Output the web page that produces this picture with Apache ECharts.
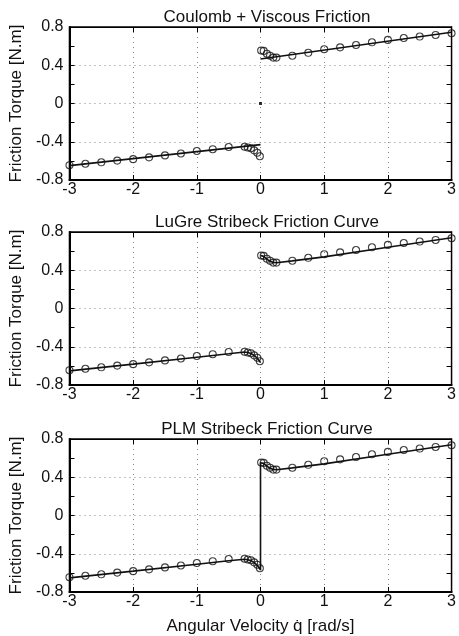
<!DOCTYPE html>
<html><head><meta charset="utf-8">
<script src="https://cdn.jsdelivr.net/npm/echarts@6/dist/echarts.min.js"></script>
<style>html,body{margin:0;padding:0;background:#fff}#c{width:459px;height:636px}</style>
</head><body><div id="c"></div>
<script>
// Measured data (circles), same in all panels
var measX = [-3,-2.75,-2.5,-2.25,-2,-1.75,-1.5,-1.25,-1,-0.75,-0.5,-0.25,-0.2,-0.15,-0.1,-0.05,-0.01,
             0.01,0.05,0.1,0.15,0.2,0.25,0.5,0.75,1,1.25,1.5,1.75,2,2.25,2.5,2.75,3];
var measY = [-0.645,-0.63,-0.615,-0.597,-0.582,-0.563,-0.543,-0.523,-0.497,-0.478,-0.455,-0.452,-0.46,-0.468,-0.49,-0.515,-0.552,
             0.555,0.55,0.52,0.50,0.48,0.48,0.50,0.53,0.567,0.587,0.612,0.64,0.665,0.685,0.70,0.717,0.735];
// Coulomb + viscous model
var coulX = [-3, 0, null, 0, 3];
var coulY = [-0.65, -0.43, null, 0.465, 0.745];
// LuGre Stribeck model (discontinuous at 0)
var lugreX = [-3,-2,-1,-0.5,-0.25,-0.2,-0.15,-0.1,-0.05,0, null, 0,0.05,0.1,0.15,0.2,0.25,0.5,1,2,3];
var lugreY = [-0.652,-0.582,-0.51,-0.474,-0.455,-0.46,-0.47,-0.49,-0.52,-0.565, null, 0.555,0.545,0.515,0.495,0.482,0.478,0.498,0.54,0.64,0.74];
// PLM Stribeck model (continuous, vertical at 0)
var plmX = [-3,-2,-1,-0.5,-0.25,-0.2,-0.15,-0.1,-0.05,0,0,0.05,0.1,0.15,0.2,0.25,0.5,1,2,3];
var plmY = [-0.652,-0.582,-0.51,-0.474,-0.457,-0.462,-0.472,-0.492,-0.522,-0.57,0.552,0.545,0.515,0.495,0.482,0.478,0.498,0.54,0.64,0.74];
var titles = ['Coulomb + Viscous Friction','LuGre Stribeck Friction Curve','PLM Stribeck Friction Curve'];
var yTicks = [-0.8,-0.4,0,0.4,0.8];
var xTicks = [-3,-2,-1,0,1,2,3];

function pairs(xs, ys){ return xs.map(function(x,i){ return x===null ? [null,null] : [x, ys[i]]; }); }

var FONT = "'Liberation Sans', Arial, sans-serif";
var tops = [27, 232, 439];
var H = 153;
var grids = [], xAxes = [], yAxes = [], series = [], gtitles = [];
tops.forEach(function(t, g){
  grids.push({left: 68, width: 389, top: t, height: H, show: true, borderColor: '#000', borderWidth: 1.5, backgroundColor: 'transparent'});
  gtitles.push({text: titles[g], left: 262, textAlign: 'center', top: t - 23,
    textStyle: {fontFamily: FONT, fontSize: 17, fontWeight: 'normal', color: '#111'}});
  var xBase = {type: 'value', gridIndex: g, min: -3, max: 3, interval: 1};
  xAxes.push(Object.assign({}, xBase, {position: 'bottom',
    name: g === 2 ? 'Angular Velocity q\u0307 [rad/s]' : '', nameLocation: 'middle', nameGap: 26,
    nameTextStyle: {fontFamily: FONT, fontSize: 17, color: '#111'},
    axisLine: {show: true, onZero: false, lineStyle: {color: '#000', width: 2}},
    axisTick: {show: true, inside: true, length: 5, lineStyle: {color: '#000'}},
    axisLabel: {fontFamily: FONT, fontSize: 16, color: '#111', margin: 2},
    splitLine: {show: true, lineStyle: {type: [1, 4], color: '#888', width: 1}}}));
  xAxes.push(Object.assign({}, xBase, {position: 'top',
    axisLine: {show: true, onZero: false, lineStyle: {color: '#000', width: 1}},
    axisTick: {show: true, inside: true, length: 5, lineStyle: {color: '#000'}},
    axisLabel: {show: false}, splitLine: {show: false}}));
  var yBase = {type: 'value', gridIndex: g, min: -0.8, max: 0.8, interval: 0.4,
    minorTick: {show: true, splitNumber: 2, length: 5, lineStyle: {color: '#000'}}};
  yAxes.push(Object.assign({}, yBase, {position: 'left',
    name: 'Friction Torque [N.m]', nameLocation: 'middle', nameGap: 36, nameRotate: 90,
    nameTextStyle: {fontFamily: FONT, fontSize: 17, color: '#111'},
    axisLine: {show: true, onZero: false, lineStyle: {color: '#000', width: 2}},
    axisTick: {show: true, inside: true, length: 5, lineStyle: {color: '#000'}},
    axisLabel: {fontFamily: FONT, fontSize: 16, color: '#111', margin: 6,
      formatter: function(v){ return v === 0 ? '0' : String(Math.round(v*10)/10); }},
    splitLine: {show: true, lineStyle: {type: [1, 4], color: '#888', width: 1}}}));
  yAxes.push(Object.assign({}, yBase, {position: 'right',
    axisLine: {show: true, onZero: false, lineStyle: {color: '#000', width: 1}},
    axisTick: {show: true, inside: true, length: 5, lineStyle: {color: '#000'}},
    axisLabel: {show: false}, splitLine: {show: false}}));
});

var models = [[coulX, coulY], [lugreX, lugreY], [plmX, plmY]];
models.forEach(function(m, g){
  series.push({type: 'line', xAxisIndex: g*2, yAxisIndex: g*2, data: pairs(m[0], m[1]),
    showSymbol: false, connectNulls: false, lineStyle: {color: '#111', width: 1.6}, z: 3, animation: false});
  series.push({type: 'scatter', xAxisIndex: g*2, yAxisIndex: g*2, data: pairs(measX, measY),
    symbol: 'circle', symbolSize: 7, itemStyle: {color: 'rgba(255,255,255,0)', borderColor: '#111', borderWidth: 1.1}, z: 4, animation: false});
});
// dot at origin in first panel
series.push({type: 'scatter', xAxisIndex: 0, yAxisIndex: 0, data: [[0, 0]], symbol: 'rect', symbolSize: 3,
  itemStyle: {color: '#000'}, z: 5, animation: false});

var chart = echarts.init(document.getElementById('c'), null, {renderer: 'canvas'});
chart.setOption({animation: false, backgroundColor: '#fff', title: gtitles, grid: grids, xAxis: xAxes, yAxis: yAxes, series: series});
</script></body></html>
